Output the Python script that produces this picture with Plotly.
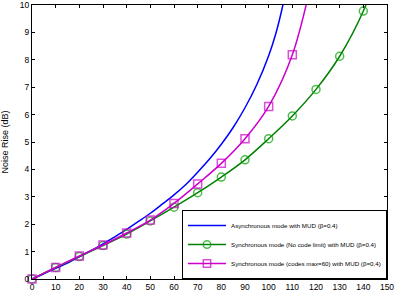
import plotly.graph_objects as go

# Asynchronous mode (smooth curve, no markers)
x_async = [0, 5, 10, 15, 20, 25, 30, 35, 40, 45, 50, 55, 60, 65, 70, 75, 80, 85, 90, 95, 100, 103, 106, 108]
y_async = [0, 0.19, 0.39, 0.58, 0.81, 1.04, 1.28, 1.54, 1.81, 2.10, 2.40, 2.73, 3.07, 3.45, 3.90, 4.38, 4.92, 5.53, 6.25, 7.10, 8.15, 8.95, 10.0, 10.9]

# Synchronous mode, no code limit
x_sync = [0, 10, 20, 30, 40, 50, 60, 70, 80, 90, 100, 110, 120, 130, 140, 150]
y_sync = [0, 0.42, 0.82, 1.22, 1.64, 2.12, 2.62, 3.15, 3.72, 4.35, 5.12, 5.95, 6.92, 8.13, 9.78, 12.2]

# Synchronous mode, codes max = 60
x_cod = [0, 10, 20, 30, 40, 50, 60, 70, 80, 90, 100, 110, 120]
y_cod = [0, 0.42, 0.84, 1.24, 1.68, 2.15, 2.76, 3.47, 4.22, 5.12, 6.30, 8.18, 11.6]

x_ticks = list(range(0, 151, 10))
y_ticks = list(range(0, 11))

names = [
    "Asynchronous mode with MUD (\u03b2=0.4)",
    "Synchronous mode (No code limit) with MUD (\u03b2=0.4)",
    "Synchronous mode (codes max=60) with MUD (\u03b2=0.4)",
]

def sizes(ys, s):
    return [s if v <= 10 else 0 for v in ys]

fig = go.Figure()
fig.add_trace(go.Scatter(x=x_async, y=y_async, mode="lines", name=names[0],
                         line=dict(color="#0000ff", width=1.5, shape="spline")))
fig.add_trace(go.Scatter(x=x_sync, y=y_sync, mode="lines+markers", name=names[1],
                         line=dict(color="#008000", width=1.5, shape="spline"),
                         marker=dict(symbol="circle-open", size=sizes(y_sync, 8), color="#00a000",
                                     line=dict(width=1.5, color="#00a000")),
                         cliponaxis=False))
fig.add_trace(go.Scatter(x=x_cod, y=y_cod, mode="lines+markers", name=names[2],
                         line=dict(color="#cc00cc", width=1.5, shape="spline"),
                         marker=dict(symbol="square-open", size=sizes(y_cod, 8), color="#cc00cc",
                                     line=dict(width=1.5, color="#cc00cc")),
                         cliponaxis=False))

axis_common = dict(showline=True, linecolor="black", linewidth=1, mirror="allticks",
                   ticks="inside", ticklen=3, tickcolor="black", showgrid=False, zeroline=False,
                   automargin=False, ticklabeloverflow="allow",
                   tickfont=dict(family="Liberation Sans", size=8.5, color="black"))

fig.update_layout(
    width=396, height=292,
    margin=dict(l=32, r=9, t=5, b=13),
    paper_bgcolor="white", plot_bgcolor="white",
    font=dict(family="Liberation Sans", color="black"),
    xaxis=dict(range=[0, 150], tickvals=x_ticks, ticklabelstandoff=0, **axis_common),
    yaxis=dict(range=[0, 10], tickvals=y_ticks,
               title=dict(text="Noise Rise (dB)", font=dict(size=9, family="Liberation Sans"), standoff=9),
               **axis_common),
    legend=dict(x=1, y=0, xanchor="right", yanchor="bottom", bgcolor="white",
                bordercolor="black", borderwidth=1, font=dict(size=6.2, family="Liberation Sans"),
                itemwidth=38, tracegroupgap=0),
    showlegend=True,
)

fig.write_html("out.html", config={"displayModeBar": False},
               post_script="document.body.style.margin='0';document.body.style.overflow='hidden';")
